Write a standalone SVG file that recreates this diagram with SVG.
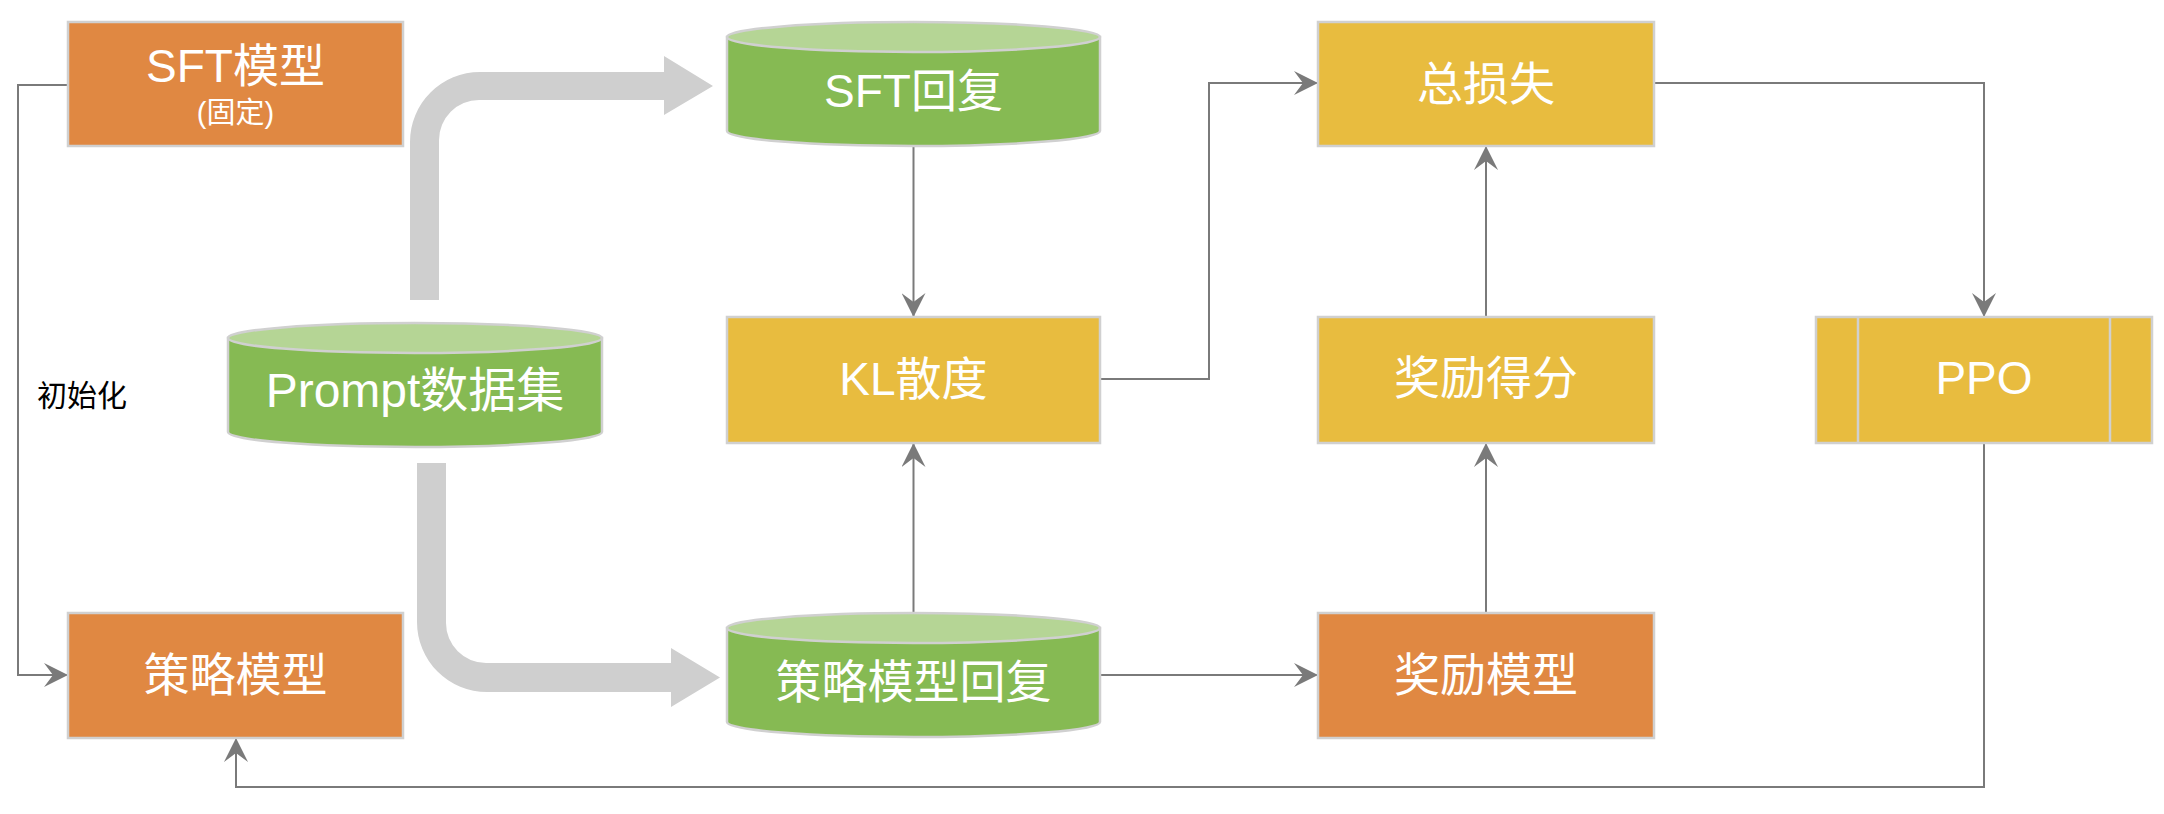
<svg xmlns="http://www.w3.org/2000/svg" width="2164" height="814" viewBox="0 0 2164 814">
<style>
.box{stroke:#D0D0D0;stroke-width:2.5}
.orange{fill:#E08842}
.yellow{fill:#E8BC3F}
.green{fill:#86BA53;stroke:#D0D0D0;stroke-width:2.5}
.top{fill:#B5D595;stroke:#D0D0D0;stroke-width:2.5}
.lbl{font-family:"Liberation Sans","Noto Sans CJK SC",sans-serif;font-size:46px;fill:#FFFFFF;text-anchor:middle}
.small{font-size:29px}
.wide{font-size:48px}
.plain{font-family:"Liberation Sans","Noto Sans CJK SC",sans-serif;font-size:30px;fill:#000000}
.conn{fill:none;stroke:#7A7A7A;stroke-width:2}
.big{fill:#CFCFCF}
</style>
<defs>
<marker id="arr" markerUnits="userSpaceOnUse" viewBox="0 0 24 24" refX="24" refY="12" markerWidth="24" markerHeight="24" orient="auto">
<path d="M0,0 L24,12 L0,24 L9,12 Z" fill="#7A7A7A"/>
</marker>
</defs>

<g id="bigarrows">
<path class="big" d="M410,300 V142 A70,70 0 0 1 480,72 H664 V56 L713,86 L664,115 V100 H479 A40,40 0 0 0 439,140 V300 Z"/>
<path class="big" d="M417,463 V622 A70,70 0 0 0 487,692 H671 V707 L720,677.5 L671,648 V663 H486 A40,40 0 0 1 446,623 V463 Z"/>
</g>

<g id="connectors">
<path class="conn" d="M68,85 H18 V675 H68" marker-end="url(#arr)"/>
<path class="conn" d="M913.5,146 V317" marker-end="url(#arr)"/>
<path class="conn" d="M913.5,613 V443" marker-end="url(#arr)"/>
<path class="conn" d="M1100,379 H1209 V83 H1318" marker-end="url(#arr)"/>
<path class="conn" d="M1100,675 H1318" marker-end="url(#arr)"/>
<path class="conn" d="M1486,613 V443" marker-end="url(#arr)"/>
<path class="conn" d="M1486,317 V146" marker-end="url(#arr)"/>
<path class="conn" d="M1654,83 H1984 V317" marker-end="url(#arr)"/>
<path class="conn" d="M1984,443 V787 H236 V738" marker-end="url(#arr)"/>
</g>

<g id="sft-model">
<rect class="box orange" x="68" y="22" width="335" height="124"/>
<text class="lbl" x="235.5" y="82">SFT模型</text>
<text class="lbl small" x="235.5" y="123">(固定)</text>
</g>

<g id="policy-model">
<rect class="box orange" x="68" y="613" width="335" height="125"/>
<text class="lbl" x="235.5" y="691">策略模型</text>
</g>

<g id="prompt-data">
<path class="green" d="M228,338 V432 A187,15 0 0 0 602,432 V338 Z"/>
<ellipse class="top" cx="415" cy="338" rx="187" ry="15"/>
<text class="lbl wide" x="415" y="407">Prompt数据集</text>
</g>

<g id="sft-reply">
<path class="green" d="M727,37 V131 A186.5,15 0 0 0 1100,131 V37 Z"/>
<ellipse class="top" cx="913.5" cy="37" rx="186.5" ry="15"/>
<text class="lbl" x="913.5" y="107">SFT回复</text>
</g>

<g id="kl">
<rect class="box yellow" x="727" y="317" width="373" height="126"/>
<text class="lbl" x="913.5" y="395">KL散度</text>
</g>

<g id="policy-reply">
<path class="green" d="M727,628 V722 A186.5,15 0 0 0 1100,722 V628 Z"/>
<ellipse class="top" cx="913.5" cy="628" rx="186.5" ry="15"/>
<text class="lbl" x="913.5" y="698">策略模型回复</text>
</g>

<g id="total-loss">
<rect class="box yellow" x="1318" y="22" width="336" height="124"/>
<text class="lbl" x="1486" y="100">总损失</text>
</g>

<g id="reward-score">
<rect class="box yellow" x="1318" y="317" width="336" height="126"/>
<text class="lbl" x="1486" y="394">奖励得分</text>
</g>

<g id="reward-model">
<rect class="box orange" x="1318" y="613" width="336" height="125"/>
<text class="lbl" x="1486" y="691">奖励模型</text>
</g>

<g id="ppo">
<rect class="box yellow" x="1816" y="317" width="336" height="126"/>
<line class="box" x1="1858" y1="317" x2="1858" y2="443"/>
<line class="box" x1="2110" y1="317" x2="2110" y2="443"/>
<text class="lbl" x="1984" y="394">PPO</text>
</g>

<g id="init-label">
<text class="plain" x="37" y="406">初始化</text>
</g>
</svg>
